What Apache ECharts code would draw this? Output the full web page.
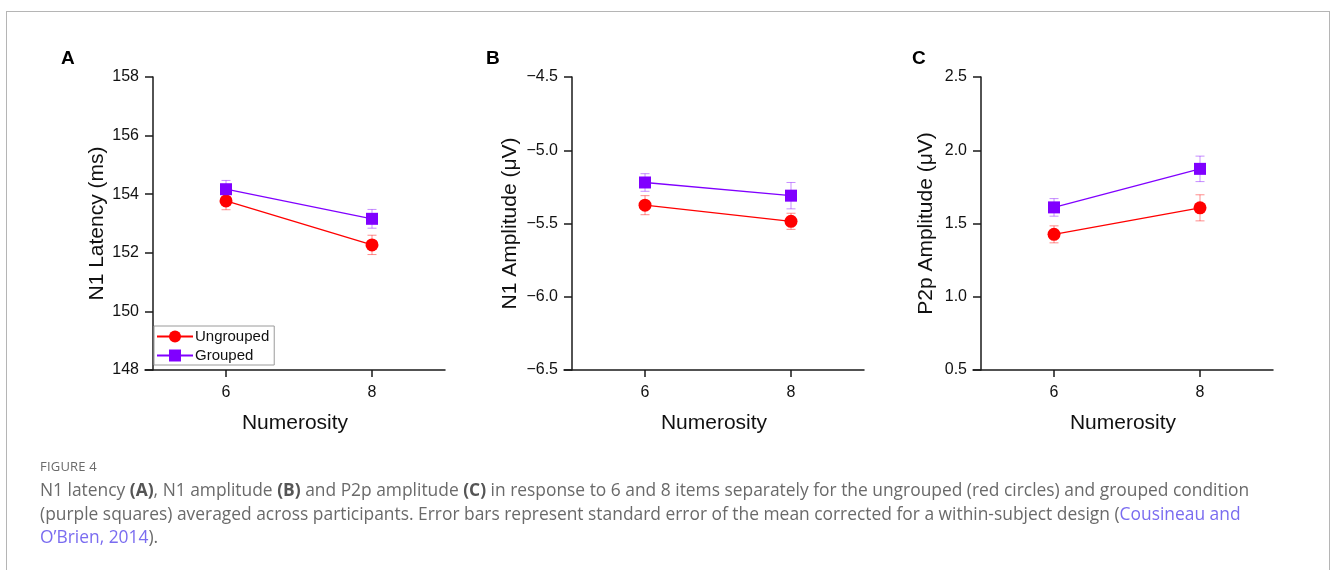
<!DOCTYPE html>
<html>
<head>
<meta charset="utf-8">
<script src="https://cdn.jsdelivr.net/npm/echarts@6/dist/echarts.min.js"></script>
<style>
html, body { margin: 0; padding: 0; background: #fff; }
#wrap { position: relative; width: 1330px; height: 570px; overflow: hidden; }
#frame { position: absolute; left: 6px; top: 11px; width: 1324px; height: 700px; border: 1px solid #b5b5b5; box-sizing: border-box; }
#chart { position: absolute; left: 0; top: 0; width: 1330px; height: 570px; }
#cap { position: absolute; left: 40px; top: 457px; width: 1285px; font-family: 'Open Sans', sans-serif; color: #6a6a6a; white-space: nowrap; }
#cap .fig { font-size: 13px; letter-spacing: 0.2px; line-height: 18px; margin-bottom: 3px; }
#cap .txt { font-size: 17.4px; line-height: 23.6px; }
#cap b { font-weight: 700; color: #555; }
#cap .lnk { color: #7a6cf0; }
</style>
</head>
<body>
<div id="wrap">
  <div id="frame"></div>
  <div id="chart"></div>
  <div id="cap">
    <div class="fig">FIGURE 4</div>
    <div class="txt">N1 latency <b>(A)</b>, N1 amplitude <b>(B)</b> and P2p amplitude <b>(C)</b> in response to 6 and 8 items separately for the ungrouped (red circles) and grouped condition<br>(purple squares) averaged across participants. Error bars represent standard error of the mean corrected for a within-subject design (<span class="lnk">Cousineau and<br>O’Brien, 2014</span>).</div>
  </div>
</div>
<script>
// ---- data ----
const numerosity = [6, 8];
const seriesNames = ['Ungrouped', 'Grouped'];
const panelLetters = ['A', 'B', 'C'];
const yAxisNames = ['N1 Latency (ms)', 'N1 Amplitude (\u03bcV)', 'P2p Amplitude (\u03bcV)'];
const xAxisName = 'Numerosity';

// Panel A: N1 latency (ms)
const latencyUngrouped = [153.77, 152.27];
const latencyUngroupedErr = [0.30, 0.33];
const latencyGrouped = [154.17, 153.16];
const latencyGroupedErr = [0.30, 0.32];

// Panel B: N1 amplitude (uV)
const n1Ungrouped = [-5.375, -5.485];
const n1UngroupedErr = [0.065, 0.055];
const n1Grouped = [-5.22, -5.31];
const n1GroupedErr = [0.06, 0.09];

// Panel C: P2p amplitude (uV)
const p2Ungrouped = [1.426, 1.607];
const p2UngroupedErr = [0.058, 0.089];
const p2Grouped = [1.61, 1.873];
const p2GroupedErr = [0.06, 0.087];

// axis ranges / ticks
const yRanges = [[148, 158, 2], [-6.5, -4.5, 0.5], [0.5, 2.5, 0.5]];
const xRange = [4.89, 9];
const xTicks = [6, 8];

// ---- styling ----
const RED = '#ff0000';
const PURPLE = '#8000ff';
const RED_ERR = 'rgba(255,0,0,0.45)';
const PURPLE_ERR = 'rgba(128,0,255,0.45)';
const FONT = 'Liberation Sans, Arial, sans-serif';
const AX = '#1a1a1a';

const panels = [
  { u: latencyUngrouped, ue: latencyUngroupedErr, g: latencyGrouped, ge: latencyGroupedErr },
  { u: n1Ungrouped, ue: n1UngroupedErr, g: n1Grouped, ge: n1GroupedErr },
  { u: p2Ungrouped, ue: p2UngroupedErr, g: p2Grouped, ge: p2GroupedErr }
];
const gridLefts = [145, 564, 973];
const letterLefts = [61, 486, 912];
const yNameGaps = [45, 51, 44];
const yDecimals = [0, 1, 1];

function fmtNum(v, d) {
  const s = Math.abs(v).toFixed(d);
  return (v < 0 ? '\u2212' : '') + s;
}

function errSeries(name, idx, ys, es, color) {
  return {
    type: 'custom', name: name, xAxisIndex: idx, yAxisIndex: idx, silent: true, z: 1,
    data: numerosity.map((x, i) => [x, ys[i], es[i]]),
    renderItem: function (params, api) {
      const x = api.value(0), y = api.value(1), e = api.value(2);
      const t = api.coord([x, y + e]);
      const b = api.coord([x, y - e]);
      const hw = 4.5;
      const st = { stroke: color, lineWidth: 1 };
      return {
        type: 'group', children: [
          { type: 'line', shape: { x1: t[0], y1: t[1], x2: b[0], y2: b[1] }, style: st },
          { type: 'line', shape: { x1: t[0] - hw, y1: t[1], x2: t[0] + hw, y2: t[1] }, style: st },
          { type: 'line', shape: { x1: b[0] - hw, y1: b[1], x2: b[0] + hw, y2: b[1] }, style: st }
        ]
      };
    }
  };
}

const grids = [], xAxes = [], yAxes = [], series = [], titles = [];
panels.forEach((p, i) => {
  grids.push({ left: gridLefts[i], top: 77, width: 300, height: 293 });
  xAxes.push({
    type: 'value', gridIndex: i, min: xRange[0], max: xRange[1],
    name: xAxisName, nameLocation: 'middle', nameGap: 43,
    nameTextStyle: { fontFamily: FONT, fontSize: 21, color: '#111' },
    axisLine: { show: true, onZero: false, lineStyle: { color: AX, width: 1.5 } },
    axisTick: { show: true, length: 7, customValues: xTicks, lineStyle: { color: AX, width: 1.5 } },
    axisLabel: { customValues: xTicks, fontFamily: FONT, fontSize: 16, color: '#111', margin: 15 },
    splitLine: { show: false }
  });
  yAxes.push({
    type: 'value', gridIndex: i, min: yRanges[i][0], max: yRanges[i][1], interval: yRanges[i][2],
    offset: -8,
    name: yAxisNames[i], nameLocation: 'middle', nameGap: yNameGaps[i],
    nameTextStyle: { fontFamily: FONT, fontSize: 21, color: '#111' },
    axisLine: { show: true, onZero: false, lineStyle: { color: AX, width: 1.5 } },
    axisTick: { show: true, length: 8, lineStyle: { color: AX, width: 1.5 } },
    axisLabel: { fontFamily: FONT, fontSize: 16, color: '#111', margin: 14,
      formatter: (v) => fmtNum(v, yDecimals[i]) },
    splitLine: { show: false }
  });
  titles.push({ text: panelLetters[i], left: letterLefts[i], top: 49, padding: 0,
    textStyle: { fontFamily: FONT, fontSize: 19, fontWeight: 'bold', color: '#000' } });

  series.push(errSeries('Ungrouped SE', i, p.u, p.ue, RED_ERR));
  series.push(errSeries('Grouped SE', i, p.g, p.ge, PURPLE_ERR));
  series.push({
    type: 'line', name: seriesNames[0], xAxisIndex: i, yAxisIndex: i, z: 3,
    data: numerosity.map((x, k) => [x, p.u[k]]),
    symbol: 'circle', symbolSize: 13, itemStyle: { color: RED },
    lineStyle: { color: RED, width: 1.3 }, animation: false
  });
  series.push({
    type: 'line', name: seriesNames[1], xAxisIndex: i, yAxisIndex: i, z: 4,
    data: numerosity.map((x, k) => [x, p.g[k]]),
    symbol: 'rect', symbolSize: 12, itemStyle: { color: PURPLE },
    lineStyle: { color: PURPLE, width: 1.3 }, animation: false
  });
});

const chart = echarts.init(document.getElementById('chart'), null, { renderer: 'canvas' });
chart.setOption({
  animation: false,
  backgroundColor: 'transparent',
  title: titles,
  grid: grids,
  xAxis: xAxes,
  yAxis: yAxes,
  legend: {
    data: seriesNames, orient: 'vertical', left: 154, top: 326,
    itemWidth: 36, itemHeight: 15, itemGap: 4,
    padding: [3, 5, 2, 2], borderColor: '#9a9a9a', borderWidth: 1,
    backgroundColor: '#fff', selectedMode: false,
    textStyle: { fontFamily: FONT, fontSize: 15, color: '#111', padding: [0, 0, 0, -3] }
  },
  series: series
});
</script>
</body>
</html>
